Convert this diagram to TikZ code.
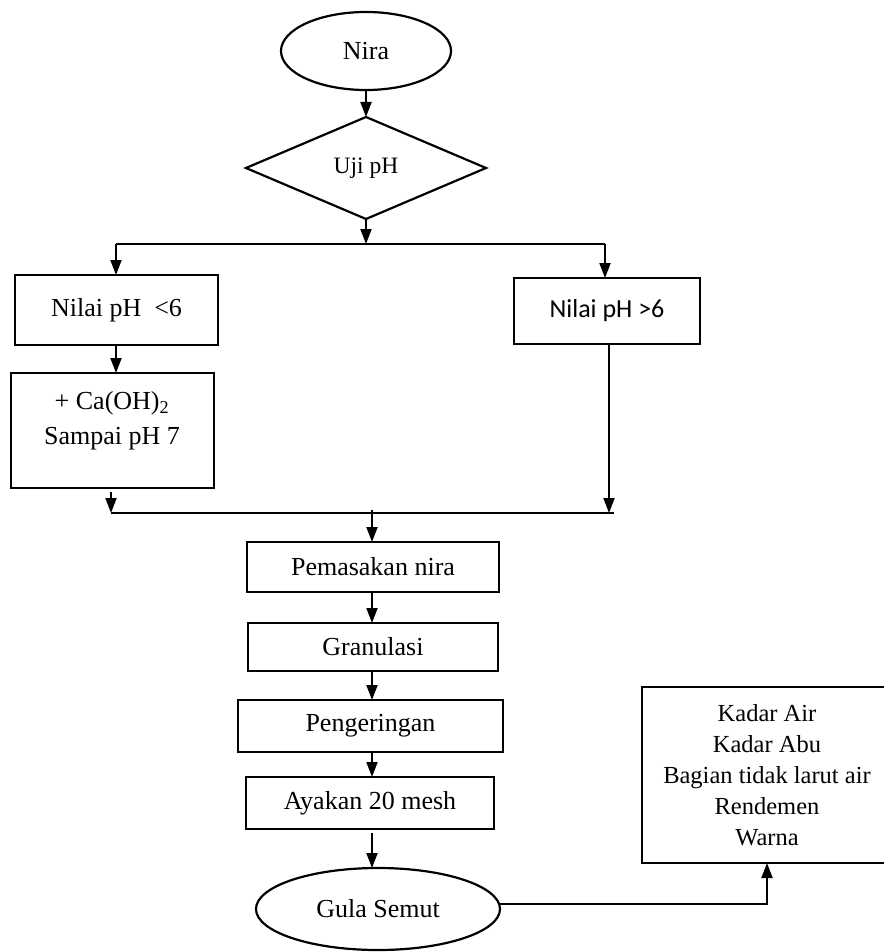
\documentclass[tikz,border=0pt]{standalone}
\usepackage{fontspec}
\setmainfont{Liberation Serif}
\newfontfamily\carl{Carlito}
\usetikzlibrary{shapes.geometric,arrows.meta}
\begin{document}
\begin{tikzpicture}[x=1pt,y=-1pt,
  every node/.style={inner sep=0pt,outer sep=0pt},
  ln/.style={line width=2pt},
  arr/.style={ln,-{Triangle[length=15pt,width=11pt]}},
  box/.style={draw,line width=2.2pt,rectangle,font=\fontsize{26}{30}\selectfont},
  ovl/.style={draw,line width=2.2pt,ellipse,font=\fontsize{26}{30}\selectfont},
  dia/.style={draw,line width=2.2pt,diamond,font=\fontsize{23.5}{28}\selectfont}]
\useasboundingbox (0,0) rectangle (883,952);
% nodes
\node[ovl,minimum width=170pt,minimum height=78pt] (nira) at (366,51) {Nira};
\node[dia,minimum width=240pt,minimum height=102pt] (uji) at (366,168) {Uji pH};
\node[box,minimum width=203pt,minimum height=70pt] (lo) at (116.5,310) {Nilai pH \ <6};
\node[box,minimum width=186pt,minimum height=66pt,font=\carl\fontsize{26}{30}\selectfont] (hi) at (607,311) {Nilai pH >6};
\node[box,minimum width=203pt,minimum height=115pt] (ca) at (112.5,430.5) {};
\node[align=center,font=\fontsize{26}{35}\selectfont] (catxt) at (112,421) {+ Ca(OH)\textsubscript{2}\\Sampai pH 7};
\node[box,minimum width=252pt,minimum height=50pt] (masak) at (373,567) {Pemasakan nira};
\node[box,minimum width=250pt,minimum height=48pt] (gran) at (373,647) {Granulasi};
\node[box,minimum width=265pt,minimum height=52pt] (kering) at (370.5,726) {Pengeringan};
\node[box,minimum width=248pt,minimum height=52pt] (ayak) at (370,803) {Ayakan 20 mesh};
\node[ovl,minimum width=244pt,minimum height=82pt] (gula) at (378,909) {Gula Semut};
\node[box,minimum width=250pt,minimum height=176pt,align=center,font=\fontsize{24.5}{31}\selectfont] (uji2) at (767,775) {Kadar Air\\Kadar Abu\\Bagian tidak larut air\\Rendemen\\Warna};
% junction coordinates
\coordinate (s0) at (366,244);
\coordinate (sl) at (116,244);
\coordinate (sr) at (605,244);
\coordinate (ml) at (111,513);
\coordinate (mr) at (614,513);
\coordinate (ms) at (111,492);
\coordinate (mc) at (372,510);
\coordinate (mrr) at (609,513);
\coordinate (ay) at (372,833);
\coordinate (gk) at (767,904);
% connectors
\draw[arr] (nira.south) -- (uji.north);
\draw[arr] (uji.south) -- (s0);
\draw[ln] (sl) -- (sr);
\draw[arr] (sl) -- (sl |- lo.north);
\draw[arr] (sr) -- (sr |- hi.north);
\draw[arr] (lo.south -| sl) -- (sl |- ca.north);
\draw[ln] (ml) -- (mr);
\draw[arr] (ms) -- (ml);
\draw[arr] (hi.south -| mrr) -- (mrr);
\draw[arr] (mc) -- (mc |- masak.north);
\draw[arr] (masak.south -| mc) -- (mc |- gran.north);
\draw[arr] (gran.south -| mc) -- (mc |- kering.north);
\draw[arr] (kering.south -| mc) -- (mc |- ayak.north);
\draw[arr] (ay) -- (ay |- gula.north);
\draw[arr] (gula.east |- gk) -- (gk) -- (uji2.south);
\end{tikzpicture}
\end{document}
